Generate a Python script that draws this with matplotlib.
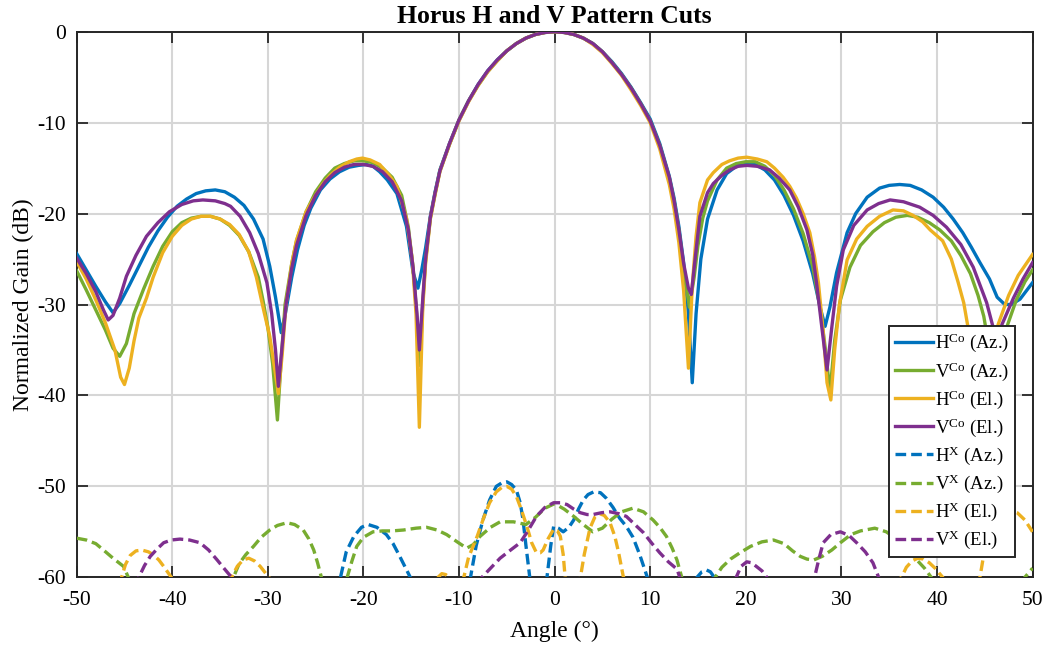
import matplotlib
matplotlib.use("Agg")
import matplotlib.pyplot as plt
import numpy as np

# colores tipo MATLAB
c_blue = '#0072BD'
c_green = '#77AC30'
c_yellow = '#EDB120'
c_purple = '#7E2F8E'

# ---- co-polar (angulo, dB) ----
h_az_co = [(-50, -24.4), (-49, -26.2), (-48, -28.0), (-47, -29.7), (-46.2, -30.9), (-45.5, -29.9),
           (-44.5, -27.9), (-43.5, -25.8), (-42.5, -23.7), (-41.5, -21.9), (-40.5, -20.4), (-39.5, -19.2),
           (-38.5, -18.4), (-37.5, -17.8), (-36.5, -17.5), (-35.5, -17.4), (-34.5, -17.6), (-33.5, -18.2),
           (-32.5, -19.1), (-31.5, -20.6), (-30.5, -22.8), (-29.8, -25.8), (-29.2, -29.2), (-28.6, -33.1),
           (-28.2, -31.2), (-27.5, -27.0), (-26.9, -24.0), (-26.2, -21.3), (-25.5, -19.4), (-24.5, -17.4),
           (-23.5, -16.2), (-22.5, -15.4), (-21.5, -14.9), (-20.5, -14.7), (-19.7, -14.6), (-19, -14.8),
           (-18.3, -15.4), (-17.5, -16.3), (-16.5, -17.8), (-15.5, -21.4), (-14.8, -26.5), (-14.3, -28.2),
           (-13.9, -26.2), (-13.5, -23.8), (-13, -20.3), (-12.5, -17.6), (-12, -15.2), (-11, -12.3),
           (-10, -9.7), (-9, -7.6), (-8, -5.8), (-7, -4.3), (-6, -3.1), (-5, -2.1), (-4, -1.3), (-3, -0.7),
           (-2, -0.3), (-1, -0.08), (0, 0), (1, -0.08), (2, -0.3), (3, -0.7), (4, -1.3), (5, -2.2),
           (6, -3.3), (7, -4.6), (8, -6.1), (9, -7.8), (10, -9.6), (11, -12.3), (12, -15.9), (12.5, -18.3),
           (13, -21.4), (13.5, -25.4), (14, -31.0), (14.4, -38.6), (14.8, -31.0), (15.3, -25.0), (16, -20.6),
           (17, -17.4), (18, -15.6), (19, -14.8), (20, -14.5), (21, -14.6), (22, -15.2), (23, -16.3),
           (24, -18.0), (25, -20.2), (26, -23.0), (27, -26.6), (27.8, -30.4), (28.3, -32.4), (28.8, -30.3),
           (29.5, -26.5), (30.6, -22.1), (31.5, -20.0), (32.7, -18.2), (34, -17.2), (35, -16.9),
           (36.1, -16.8), (37.2, -16.9), (38.4, -17.4), (39.6, -18.2), (40.7, -19.3), (41.7, -20.6),
           (42.7, -22.1), (43.6, -23.7), (44.5, -25.4), (45.5, -27.2), (46.3, -29.2), (47.1, -30.0),
           (47.8, -30.0), (48.7, -29.4), (50, -27.6)]

v_az_co = [(-50, -26.3), (-49, -28.4), (-48, -30.6), (-47, -32.8), (-46.2, -34.8), (-45.5, -35.7),
           (-44.8, -34.3), (-44, -31.0), (-43, -28.3), (-42, -25.8), (-41, -23.6), (-40, -22.0),
           (-39, -21.0), (-38, -20.5), (-37, -20.3), (-36, -20.3), (-35, -20.6), (-34, -21.3), (-33, -22.4),
           (-32, -24.2), (-31, -27.0), (-30.5, -29.6), (-30, -32.5), (-29.5, -36.5), (-29.0, -42.7),
           (-28.6, -36.0), (-28.2, -30.0), (-27.5, -25.5), (-27, -23.0), (-26, -19.8), (-25, -17.6),
           (-24, -16.1), (-23, -15.0), (-22, -14.5), (-21, -14.2), (-20, -14.2), (-19, -14.4), (-18, -15.0),
           (-17, -16.0), (-16, -18.0), (-15.3, -21.5), (-14.8, -26.0), (-14.4, -31.5), (-14.1, -36.7),
           (-13.8, -30.0), (-13.5, -25.2), (-13, -20.5), (-12.5, -17.8), (-12, -15.3), (-11, -12.4),
           (-10, -9.7), (-9, -7.6), (-8, -5.9), (-7, -4.4), (-6, -3.2), (-5, -2.1), (-4, -1.3), (-3, -0.7),
           (-2, -0.3), (-1, -0.08), (0, 0), (1, -0.08), (2, -0.3), (3, -0.7), (4, -1.3), (5, -2.2),
           (6, -3.4), (7, -4.7), (8, -6.2), (9, -7.9), (10, -9.8), (11, -12.5), (12, -16.1), (12.5, -18.6),
           (13, -21.8), (13.5, -26.0), (14.1, -30.3), (14.6, -27.0), (15, -23.5), (15.5, -20.5), (16, -18.6),
           (17, -16.3), (18, -15.0), (19, -14.5), (20, -14.3), (21, -14.3), (22, -14.8), (23, -15.8),
           (24, -17.4), (25, -19.5), (26, -22.2), (27, -25.8), (27.8, -30.5), (28.4, -35.5), (28.8, -39.7),
           (29.3, -34.0), (29.9, -29.5), (30.9, -25.9), (32, -23.5), (33.3, -22.0), (34.5, -21.0),
           (35.7, -20.4), (36.9, -20.2), (38, -20.4), (39.2, -21.0), (40.3, -21.8), (41.5, -23.0),
           (42.5, -24.6), (43.5, -26.6), (44.3, -29.0), (44.9, -31.3), (45.5, -35.0), (46.2, -37.5),
           (46.8, -34.5), (47.4, -32.2), (48.3, -29.5), (49.2, -27.5), (50, -26.2)]

h_el_co = [(-50, -25.3), (-49, -27.2), (-48, -29.5), (-47, -32.0), (-46, -35.0), (-45.4, -38.0),
           (-45.0, -38.8), (-44.5, -37.0), (-44, -34.0), (-43.5, -31.5), (-42.7, -29.3), (-42, -27.0),
           (-41, -24.3), (-40, -22.5), (-39, -21.3), (-38, -20.6), (-37, -20.3), (-36, -20.3), (-35, -20.6),
           (-34, -21.2), (-33, -22.3), (-32, -24.2), (-31.2, -27.0), (-30.4, -30.8), (-29.8, -33.5),
           (-29.3, -37.0), (-28.9, -39.8), (-28.5, -35.5), (-28.1, -30.0), (-27.5, -25.5), (-27, -22.9),
           (-26, -19.8), (-25.2, -18.3), (-24.3, -16.8), (-23.5, -15.8), (-22.5, -14.9), (-21.5, -14.3),
           (-20.7, -14.0), (-20.1, -13.9), (-19.3, -14.1), (-18.3, -14.6), (-17.3, -15.8), (-16.5, -17.0),
           (-15.5, -20.5), (-14.9, -25.0), (-14.5, -31.0), (-14.15, -43.5), (-13.8, -30.5), (-13.5, -25.5),
           (-13, -20.6), (-12.5, -17.9), (-12, -15.4), (-11, -12.4), (-10, -9.8), (-9, -7.7), (-8, -5.9),
           (-7, -4.4), (-6, -3.2), (-5, -2.1), (-4, -1.3), (-3, -0.7), (-2, -0.3), (-1, -0.08), (0, 0),
           (1, -0.08), (2, -0.3), (3, -0.7), (4, -1.4), (5, -2.3), (6, -3.5), (7, -4.8), (8, -6.4),
           (9, -8.1), (10, -10.0), (11, -12.9), (12, -16.8), (12.5, -19.5), (13, -23.2), (13.5, -28.5),
           (14.0, -37.0), (14.4, -28.0), (14.8, -22.5), (15.2, -18.8), (16, -16.3), (16.6, -15.5),
           (17.5, -14.6), (18.3, -14.2), (19.2, -13.9), (20.1, -13.8), (21.2, -14.0), (22.2, -14.3),
           (23, -15.0), (23.9, -16.0), (24.6, -17.0), (25.3, -18.3), (26, -20.0), (26.7, -22.1),
           (27.2, -24.8), (27.6, -27.6), (28.1, -33.0), (28.5, -38.6), (28.9, -40.5), (29.3, -35.0),
           (29.8, -30.0), (30.6, -25.1), (31.6, -22.8), (32.7, -21.4), (34, -20.3), (35.4, -19.6),
           (36.5, -19.7), (37.5, -20.2), (38.5, -20.9), (39.3, -21.8), (40.6, -23.0), (41.5, -25.0),
           (42.2, -27.5), (42.8, -29.8), (43.2, -32.2), (43.8, -35.5), (44.8, -40.0), (45.6, -36.5),
           (46.4, -32.2), (47.5, -29.0), (48.5, -26.8), (50, -24.5)]

v_el_co = [(-50, -24.9), (-49, -26.6), (-48, -28.6), (-47.2, -30.6), (-46.7, -31.7), (-46.2, -31.2),
           (-45.5, -29.3), (-44.8, -26.9), (-43.8, -24.6), (-42.7, -22.5), (-41.5, -21.0), (-40.3, -19.8),
           (-39, -19.0), (-37.8, -18.6), (-36.8, -18.5), (-35.5, -18.6), (-34.5, -18.9), (-33.9, -19.2),
           (-32.9, -20.3), (-31.9, -22.1), (-31, -24.4), (-30.1, -27.6), (-29.6, -31.0), (-29.2, -35.0),
           (-28.9, -39.0), (-28.5, -34.5), (-28.1, -30.0), (-27.5, -26.0), (-27, -23.5), (-26, -20.2),
           (-25, -18.0), (-24, -16.5), (-23, -15.5), (-22, -14.9), (-21, -14.6), (-20, -14.6), (-19, -14.8),
           (-18, -15.4), (-17, -16.5), (-16, -18.6), (-15.3, -21.8), (-14.8, -26.0), (-14.4, -31.0),
           (-14.15, -35.0), (-13.8, -29.5), (-13.5, -25.0), (-13, -20.4), (-12.5, -17.7), (-12, -15.3),
           (-11, -12.3), (-10, -9.7), (-9, -7.6), (-8, -5.8), (-7, -4.3), (-6, -3.1), (-5, -2.1), (-4, -1.3),
           (-3, -0.7), (-2, -0.3), (-1, -0.08), (0, 0), (1, -0.08), (2, -0.3), (3, -0.7), (4, -1.3),
           (5, -2.2), (6, -3.4), (7, -4.7), (8, -6.2), (9, -7.9), (10, -9.8), (11, -12.5), (12, -16.0),
           (12.5, -18.6), (13, -21.8), (13.5, -25.5), (14, -28.2), (14.3, -28.9), (14.7, -25.0),
           (15.2, -20.3), (16, -17.7), (16.6, -16.7), (17.5, -15.8), (18.3, -15.2), (19.2, -14.8),
           (20.1, -14.7), (21.2, -14.8), (22.5, -15.2), (23.5, -16.1), (24.6, -17.4), (25.5, -19.3),
           (26.4, -21.8), (27, -24.5), (27.4, -27.6), (27.9, -32.0), (28.5, -37.2), (29.0, -32.5),
           (29.5, -28.0), (30.2, -24.0), (31.3, -21.3), (32.7, -19.6), (33.9, -18.9), (35.1, -18.5),
           (36.5, -18.7), (38.2, -19.3), (39.6, -20.2), (41, -21.5), (42.5, -23.4), (43.8, -25.9),
           (45.2, -29.8), (45.8, -32.2), (46.3, -34.5), (46.8, -32.2), (48, -29.3), (49, -27.2), (50, -25.4)]

# ---- cross-polar (angulo, dB); por debajo de -60 queda fuera del eje ----
h_az_x = [(-50, -75), (-23, -68), (-22.4, -60), (-21.8, -57.2), (-21.0, -55.5), (-20.2, -54.5),
          (-19.5, -54.2), (-18.6, -54.5), (-17.6, -55.3), (-16.9, -56.3), (-16.2, -57.7), (-15.1, -60),
          (-12, -70), (-9.5, -64), (-8.8, -60), (-8.2, -56.5), (-7.5, -53.7), (-6.8, -51.5), (-6.1, -50.0),
          (-5.5, -49.6), (-5.0, -49.5), (-4.5, -49.8), (-4.0, -50.4), (-3.6, -51.8), (-3.3, -53.7),
          (-3.0, -56.5), (-2.6, -60), (-1.7, -65), (-0.8, -60), (-0.4, -56.5), (-0.1, -54.4), (0.4, -54.6),
          (0.9, -55.0), (1.5, -54.5), (2.0, -53.7), (2.5, -52.5), (3.0, -51.5), (3.5, -50.9), (4.1, -50.6),
          (4.8, -50.7), (5.4, -51.3), (6.1, -52.3), (6.8, -53.5), (7.5, -54.4), (8.2, -55.6), (8.9, -57.5),
          (9.7, -60), (12, -68), (14.9, -60), (15.4, -59.4), (15.9, -59.2), (16.3, -59.4), (16.7, -60),
          (20, -68), (50, -75)]

v_az_x = [(-50, -55.7), (-49, -55.9), (-48, -56.3), (-47.2, -57.0), (-46.2, -57.9), (-45.1, -58.8),
          (-44.6, -60), (-39, -68), (-33.6, -60), (-33, -58.5), (-32.3, -57.5), (-31.5, -56.6),
          (-30.7, -55.6), (-29.8, -54.8), (-29, -54.3), (-28.0, -54.0), (-27.2, -54.2), (-26.3, -54.8),
          (-25.7, -55.8), (-25.2, -57.0), (-24.8, -58.4), (-24.4, -60), (-23, -63), (-21.7, -60),
          (-21.2, -58.2), (-20.7, -56.6), (-20, -55.6), (-19, -55.0), (-18, -54.9), (-17, -54.9),
          (-15.8, -54.8), (-14.5, -54.6), (-13.4, -54.5), (-12.3, -54.8), (-11.3, -55.3), (-10.2, -56.1),
          (-9.2, -56.8), (-8.5, -56.4), (-7.8, -55.5), (-6.7, -54.5), (-5.7, -53.9), (-4.3, -53.9),
          (-3.0, -54.2), (-2, -53.4), (-1, -52.4), (0, -51.9), (1, -52.5), (2, -53.3), (3, -54.2),
          (4, -55.0), (5, -54.6), (6, -53.6), (7, -52.8), (8.2, -52.4), (9.3, -52.8), (10.3, -53.7),
          (11.0, -54.5), (11.7, -55.5), (12.3, -56.8), (12.8, -58.1), (13.3, -60), (15, -64), (16.8, -60),
          (17.5, -58.9), (18.4, -58.0), (19.4, -57.3), (20.5, -56.6), (21.7, -56.1), (22.9, -55.9),
          (24, -56.3), (24.9, -57.1), (25.7, -57.7), (26.4, -58.0), (27.1, -58.1), (28, -57.7),
          (29, -57.0), (29.9, -56.2), (31, -55.3), (32, -54.9), (33.5, -54.6), (34.7, -55.0),
          (35.8, -55.8), (36.9, -56.9), (37.9, -58.1), (38.7, -59.0), (39.4, -60), (44, -67),
          (49.2, -60), (50, -59.0)]

h_el_x = [(-50, -70), (-46, -63), (-45.3, -60), (-44.9, -58.6), (-44.4, -57.6), (-43.8, -57.1),
          (-43.2, -57.0), (-42.5, -57.2), (-42, -57.5), (-41.4, -58.1), (-40.9, -58.8), (-40.1, -60),
          (-37, -66), (-33.8, -60), (-33.2, -58.8), (-32.6, -58.1), (-32.0, -57.9), (-31.4, -58.2),
          (-30.8, -58.8), (-29.9, -60), (-20, -72), (-12.5, -60.5), (-12.2, -60), (-11.8, -59.6),
          (-11.4, -59.7), (-11.0, -60), (-10.3, -62), (-9.5, -60), (-9.0, -57.8), (-8.1, -55.5),
          (-7.4, -53.4), (-6.8, -51.8), (-6.1, -50.6), (-5.5, -50.1), (-5.0, -50.0), (-4.5, -50.3),
          (-4.0, -51.1), (-3.5, -52.5), (-2.9, -54.4), (-2.4, -56.2), (-1.9, -57.3), (-1.5, -57.3),
          (-1.2, -57.0), (-0.7, -55.8), (-0.1, -54.7), (0.3, -54.9), (0.6, -55.5), (0.9, -57.5),
          (1.1, -60), (1.9, -63), (2.7, -60), (3.1, -57.5), (3.7, -54.6), (4.2, -53.4), (4.7, -53.0),
          (5.2, -53.2), (5.8, -54.0), (6.3, -55.5), (6.7, -57.3), (7.2, -60), (20, -72), (36.3, -60),
          (36.8, -58.9), (37.4, -58.2), (38.0, -57.9), (38.6, -58.0), (39.2, -58.4), (39.8, -59.0),
          (40.6, -60), (42.5, -63), (44.5, -60), (44.9, -57.5), (45.4, -55.5), (46.0, -54.0),
          (46.8, -53.0), (47.6, -52.6), (48.4, -52.9), (49.2, -53.7), (50, -55.0)]

v_el_x = [(-50, -72), (-45, -64), (-43.5, -60), (-42.9, -58.7), (-42.3, -57.7), (-41.6, -56.9),
          (-40.9, -56.2), (-40.1, -55.9), (-39.2, -55.8), (-38.2, -55.9), (-37.1, -56.2), (-36.2, -57.0),
          (-35.3, -58.1), (-34.6, -59.0), (-33.8, -60), (-20, -75), (-7.6, -60), (-6.7, -59.0),
          (-5.7, -57.9), (-4.6, -57.0), (-3.6, -56.2), (-2.8, -54.9), (-1.9, -53.3), (-1.0, -52.3),
          (-0.1, -51.8), (0.6, -51.8), (1.3, -52.0), (2.0, -52.5), (2.7, -52.9), (3.4, -53.1),
          (4.0, -53.1), (4.9, -52.9), (5.8, -52.8), (6.7, -53.0), (7.5, -53.3), (8.4, -54.2),
          (9.3, -55.1), (10.2, -56.3), (11.0, -57.3), (11.9, -58.3), (12.8, -59.1), (13.1, -60),
          (16, -65), (19.0, -60), (19.5, -58.8), (20.1, -58.3), (20.6, -58.4), (21.1, -58.8),
          (21.7, -59.3), (22.2, -60), (25, -66), (27.2, -60), (27.6, -58.2), (28.1, -56.2),
          (28.9, -55.3), (29.9, -55.0), (30.8, -55.4), (31.6, -56.2), (32.5, -57.2), (33.3, -58.4),
          (33.9, -60), (40, -70), (50, -72)]

etiquetas = [r'H$^{\rm Co}$ (Az.)', r'V$^{\rm Co}$ (Az.)', r'H$^{\rm Co}$ (El.)', r'V$^{\rm Co}$ (El.)',
             r'H$^{\rm X}$ (Az.)', r'V$^{\rm X}$ (Az.)', r'H$^{\rm X}$ (El.)', r'V$^{\rm X}$ (El.)']

plt.rcParams['font.family'] = ['Liberation Serif', 'DejaVu Serif']
plt.rcParams['mathtext.fontset'] = 'custom'
plt.rcParams['mathtext.rm'] = 'Liberation Serif'
plt.rcParams['mathtext.it'] = 'Liberation Serif:italic'
plt.rcParams['axes.unicode_minus'] = False

fig = plt.figure(figsize=(10.49, 6.54), dpi=100)
ax = fig.add_axes([0.0731, 0.1173, 0.9112, 0.8342])

series = [h_az_co, v_az_co, h_el_co, v_el_co, h_az_x, v_az_x, h_el_x, v_el_x]
colores = [c_blue, c_green, c_yellow, c_purple] * 2
for i, (datos, col, lab) in enumerate(zip(series, colores, etiquetas)):
    ang, g = np.array(datos).T
    if i < 4:
        ax.plot(ang, g, color=col, lw=2.4, label=lab, zorder=3)
    else:
        ax.plot(ang, g, color=col, lw=2.4, ls=(0, (3.2, 1.5)), label=lab, zorder=3)

ax.set_xlim(-50, 50)
ax.set_ylim(-60, 0)
ax.set_xticks(np.arange(-50, 51, 10))
ax.set_yticks(np.arange(-60, 1, 10))
ax.grid(True, color='#d6d6d6', lw=1.5)
ax.set_axisbelow(True)
ax.tick_params(direction='in', length=8, width=1.3, top=True, right=True,
               labelsize=15.5, colors='#262626', labelcolor='black')
ax.tick_params(axis='x', pad=10)
ax.tick_params(axis='y', pad=8)
for s in ax.spines.values():
    s.set_color('#262626')
    s.set_linewidth(1.4)

ax.set_title('Horus H and V Pattern Cuts', fontsize=18.5, fontweight='bold', pad=6)
ax.set_xlabel('Angle (°)', fontsize=17, labelpad=8)
ax.set_ylabel('Normalized Gain (dB)', fontsize=17, labelpad=2)

leg = ax.legend(loc='lower right', bbox_to_anchor=(0.982, 0.037), borderaxespad=0,
                fontsize=13.5, handlelength=2.0, handletextpad=0.15, labelspacing=0.3,
                borderpad=0.3, fancybox=False, framealpha=1, edgecolor='#262626')
leg.get_frame().set_linewidth(1.4)
leg.set_zorder(5)

fig.savefig('out.png', dpi=100)
